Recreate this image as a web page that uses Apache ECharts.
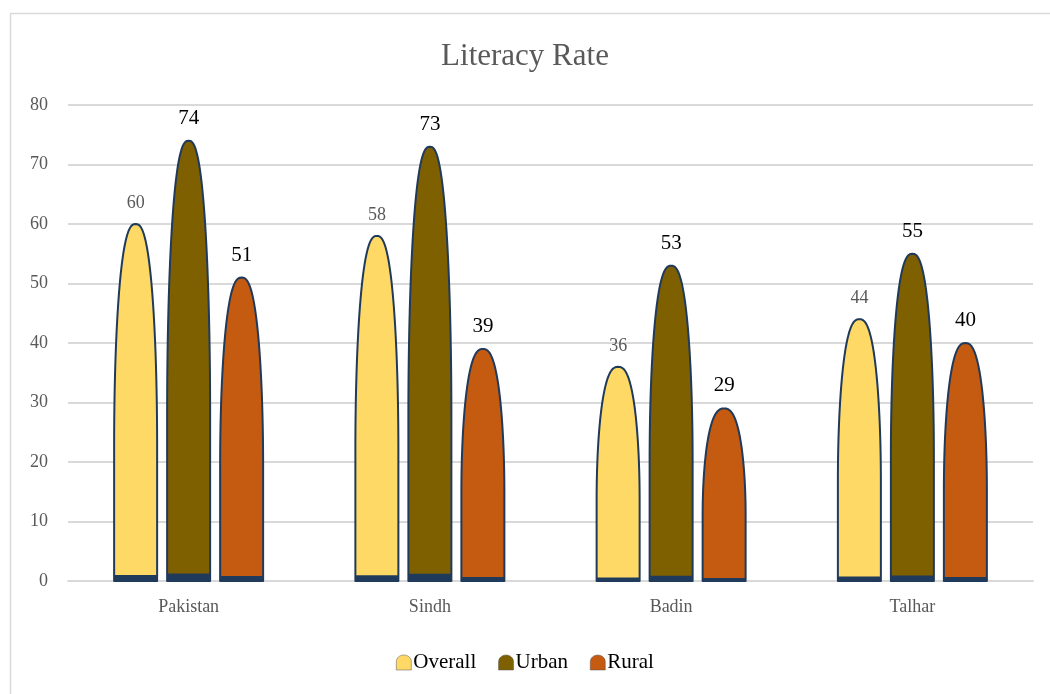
<!DOCTYPE html>
<html><head><meta charset="utf-8">
<script src="https://cdn.jsdelivr.net/npm/echarts@6/dist/echarts.min.js"></script>
<style>html,body{margin:0;padding:0;background:#fff}#c{width:1050px;height:694px}</style>
</head><body><div id="c"></div>
<script>
var categories = ['Pakistan', 'Sindh', 'Badin', 'Talhar'];
var overall = [60, 58, 36, 44];
var urban = [74, 73, 53, 55];
var rural = [51, 39, 29, 40];
var seriesNames = ['Overall', 'Urban', 'Rural'];
var yTicks = [0, 10, 20, 30, 40, 50, 60, 70, 80];

var colors = ['#FFD966', '#7F6000', '#C55A11'];
var outline = '#203A5C';
var FONT = '"Liberation Serif", "DejaVu Serif", serif';
var BAR_W = 43, STEP = 53;

// bullet profile: half-width fraction at relative depth t (0 = tip)
function profile(t) {
  var c = 0.62, p = 0.4;
  if (t >= c) return 1;
  var u = t / c;
  return Math.pow(1 - (1 - u) * (1 - u), p);
}

function makeRender(idx, labelColor, labelSize) {
  return function (params, api) {
    var cat = api.value(0), val = api.value(1);
    var base = api.coord([cat, 0]);
    var top = api.coord([cat, val]);
    var cx = base[0] + (idx - 1) * STEP;
    var h = base[1] - top[1];
    var hw = BAR_W / 2;
    var yb = base[1], yt = top[1];
    var N = 60, left = [], right = [];
    for (var i = 0; i <= N; i++) {
      var t = Math.pow(i / N, 1.8);
      var d = t * h;
      var w = hw * profile(t);
      left.push([cx - w, yt + d]);
      right.push([cx + w, yt + d]);
    }
    var pts = left.slice().reverse().concat(right);
    var strip = Math.max(3, val * 0.1);
    return {
      type: 'group',
      children: [
        { type: 'polygon', shape: { points: pts }, style: { fill: colors[idx], stroke: outline, lineWidth: 2, lineJoin: 'round' } },
        { type: 'rect', shape: { x: cx - hw, y: yb - strip, width: BAR_W, height: strip }, style: { fill: outline } },
        { type: 'text', x: cx, y: yt - 12, style: { text: String(val), fill: labelColor, font: labelSize + 'px ' + FONT, align: 'center', verticalAlign: 'bottom' } }
      ]
    };
  };
}

function dataOf(arr) { return arr.map(function (v, i) { return [i, v]; }); }

var legendIcon = 'path://M0,100 L0,45 C0,20 22,0 50,0 C78,0 100,20 100,45 L100,100 Z';

var chart = echarts.init(document.getElementById('c'), null, { renderer: 'canvas' });
chart.setOption({
  animation: false,
  backgroundColor: '#fff',
  graphic: [{ type: 'rect', left: 8, top: 11, shape: { width: 1100, height: 720 }, style: { fill: 'none', stroke: '#d9d9d9', lineWidth: 1.5 }, z: -1 }],
  title: {
    text: 'Literacy Rate', left: 'center', top: 36,
    textStyle: { fontFamily: FONT, fontSize: 31, fontWeight: 'normal', color: '#595959' }
  },
  grid: { left: 68, right: 17, top: 105, bottom: 113 },
  xAxis: {
    type: 'category', data: categories,
    axisLine: { lineStyle: { color: '#d9d9d9', width: 2 } },
    axisTick: { show: false },
    axisLabel: { fontFamily: FONT, fontSize: 18, color: '#595959', margin: 17 }
  },
  yAxis: {
    type: 'value', min: yTicks[0], max: yTicks[yTicks.length - 1], interval: 10,
    axisLine: { show: false }, axisTick: { show: false },
    splitLine: { lineStyle: { color: '#d9d9d9', width: 2 } },
    axisLabel: { fontFamily: FONT, fontSize: 18, color: '#595959', margin: 20 }
  },
  legend: {
    bottom: 16, left: 'center', itemWidth: 15, itemHeight: 17, itemGap: 22,
    textStyle: { fontFamily: FONT, fontSize: 21, color: '#000', padding: [0, 0, 0, -3] },
    data: seriesNames.map(function (n, i) { return { name: n, icon: legendIcon, itemStyle: { color: colors[i], borderColor: '#555', borderWidth: 0.5 } }; })
  },
  series: [
    { type: 'custom', name: seriesNames[0], renderItem: makeRender(0, '#595959', 18), data: dataOf(overall), itemStyle: { color: colors[0] }, encode: { x: 0, y: 1 } },
    { type: 'custom', name: seriesNames[1], renderItem: makeRender(1, '#000', 21), data: dataOf(urban), itemStyle: { color: colors[1] }, encode: { x: 0, y: 1 } },
    { type: 'custom', name: seriesNames[2], renderItem: makeRender(2, '#000', 21), data: dataOf(rural), itemStyle: { color: colors[2] }, encode: { x: 0, y: 1 } }
  ]
});
</script></body></html>
